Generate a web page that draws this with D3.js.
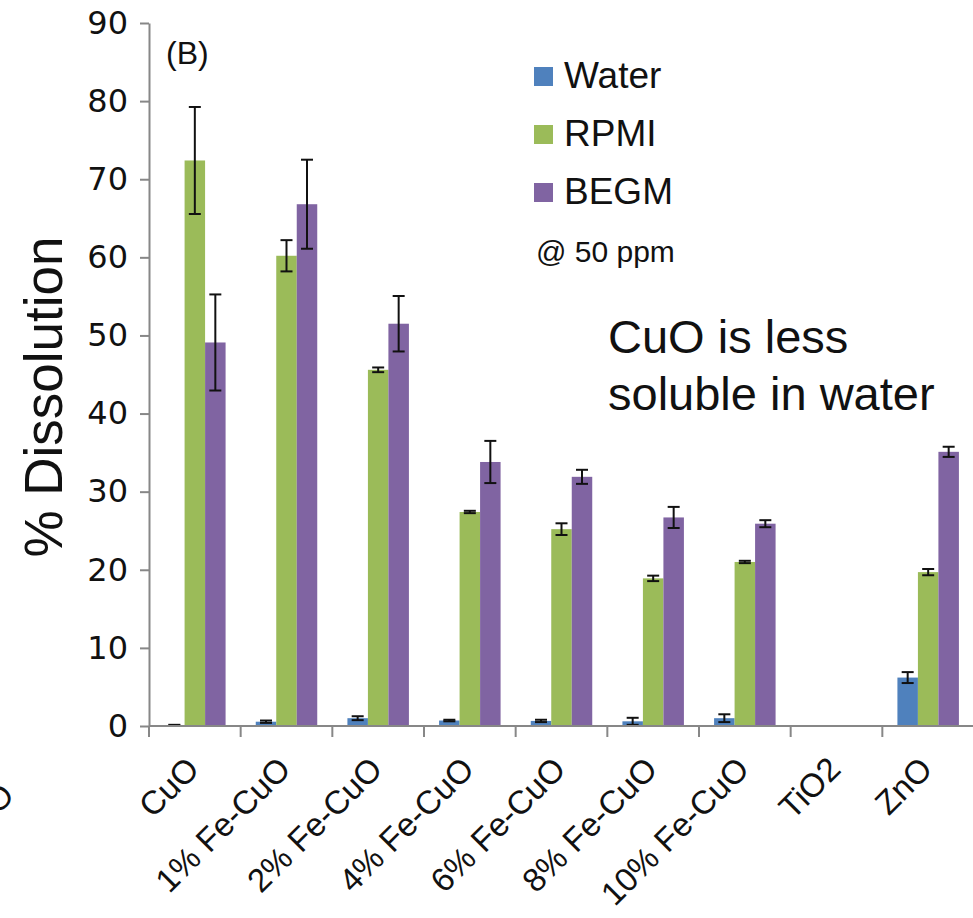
<!DOCTYPE html>
<html>
<head>
<meta charset="utf-8">
<script src="https://cdn.jsdelivr.net/npm/d3@7"></script>
<style>
  html, body { margin: 0; padding: 0; background: #fff; overflow: hidden; }
  svg { display: block; }
</style>
</head>
<body>
<svg id="chart" width="973" height="918"></svg>
<script>
// Nanoparticle dissolution (%) at 50 ppm in three media
const categories = ["CuO", "1% Fe-CuO", "2% Fe-CuO", "4% Fe-CuO", "6% Fe-CuO",
                    "8% Fe-CuO", "10% Fe-CuO", "TiO2", "ZnO"];
const seriesNames = ["Water", "RPMI", "BEGM"];
const seriesColors = ["#4F81BD", "#9BBB59", "#8064A2"];

const waterValues = [0.1, 0.55, 1.0, 0.7, 0.65, 0.6, 1.0, 0, 6.2];
const waterErrors = [0.05, 0.15, 0.25, 0.1, 0.15, 0.45, 0.5, 0, 0.7];
const rpmiValues  = [72.4, 60.2, 45.6, 27.4, 25.2, 18.9, 21.0, 0, 19.7];
const rpmiErrors  = [6.85, 2.0, 0.3, 0.15, 0.75, 0.35, 0.15, 0, 0.4];
const begmValues  = [49.1, 66.8, 51.5, 33.8, 31.9, 26.7, 25.9, 0, 35.1];
const begmErrors  = [6.15, 5.7, 3.55, 2.7, 0.9, 1.35, 0.45, 0, 0.65];

const yTicks = [0, 10, 20, 30, 40, 50, 60, 70, 80, 90];
const neighbourPanelLabel = "ZnO";

const svg = d3.select("#chart");
const axisColor = "#878787";
const textFont = "'Liberation Sans', Arial, sans-serif";

const y = d3.scaleLinear().domain([0, 90]).range([726, 23]);
const x = d3.scaleBand().domain(categories).range([149, 974]).paddingInner(0).paddingOuter(0);
const xs = d3.scaleBand().domain(seriesNames).range([0, x.bandwidth()]).paddingInner(0).paddingOuter(0.736);

const series = [
  { name: "Water", values: waterValues, errors: waterErrors },
  { name: "RPMI",  values: rpmiValues,  errors: rpmiErrors },
  { name: "BEGM",  values: begmValues,  errors: begmErrors }
];
const color = d3.scaleOrdinal().domain(seriesNames).range(seriesColors);

const rows = [];
series.forEach(s => {
  categories.forEach((c, i) => rows.push({ cat: c, series: s.name, v: s.values[i], e: s.errors[i] }));
});

// Bars
svg.append("g").selectAll("rect")
  .data(rows.filter(d => d.v > 0))
  .join("rect")
  .attr("x", d => x(d.cat) + xs(d.series))
  .attr("width", xs.bandwidth())
  .attr("y", d => y(d.v))
  .attr("height", d => y(0) - y(d.v))
  .attr("fill", d => color(d.series));

// Error bars
const eb = svg.append("g").attr("stroke", "#111").attr("stroke-width", 2).attr("fill", "none");
rows.filter(d => d.e > 0).forEach(d => {
  const cx = x(d.cat) + xs(d.series) + xs.bandwidth() / 2;
  const y1 = y(d.v + d.e), y2 = y(Math.max(0, d.v - d.e));
  eb.append("line").attr("x1", cx).attr("x2", cx).attr("y1", y1).attr("y2", y2);
  eb.append("line").attr("x1", cx - 6).attr("x2", cx + 6).attr("y1", y1).attr("y2", y1);
  eb.append("line").attr("x1", cx - 6).attr("x2", cx + 6).attr("y1", y2).attr("y2", y2);
});

// Y axis
const yAxis = svg.append("g")
  .attr("transform", "translate(149,0)")
  .call(d3.axisLeft(y).tickValues(yTicks).tickSize(9).tickPadding(12).tickSizeOuter(0));
yAxis.select(".domain").attr("stroke", axisColor).attr("stroke-width", 2);
yAxis.selectAll(".tick line").attr("stroke", axisColor).attr("stroke-width", 2);
yAxis.selectAll(".tick text")
  .attr("fill", "#111")
  .style("font-family", "'DejaVu Sans', Verdana, sans-serif")
  .style("font-size", "32px");

// X axis: ticks at category boundaries
const boundaries = categories.map(c => x(c));
const xAxisG = svg.append("g");
xAxisG.append("line")
  .attr("x1", x.range()[0]).attr("x2", x.range()[1])
  .attr("y1", y(0)).attr("y2", y(0))
  .attr("stroke", axisColor).attr("stroke-width", 2);
xAxisG.selectAll("line.tk")
  .data(boundaries)
  .join("line").attr("class", "tk")
  .attr("x1", d => d).attr("x2", d => d)
  .attr("y1", y(0)).attr("y2", y(0) + 11)
  .attr("stroke", axisColor).attr("stroke-width", 2);

// Rotated category labels
svg.append("g").selectAll("text")
  .data(categories)
  .join("text")
  .attr("transform", d => `translate(${x(d) + x.bandwidth() / 2 + 6},771) rotate(-45)`)
  .attr("text-anchor", "end")
  .style("font-family", textFont)
  .style("font-size", "33px")
  .attr("fill", "#111")
  .text(d => d);

// Label from the neighbouring panel, clipped by the page edge
svg.append("text")
  .attr("transform", "translate(16,797) rotate(-45)")
  .attr("text-anchor", "end")
  .style("font-family", textFont)
  .style("font-size", "33px")
  .attr("fill", "#111")
  .text(neighbourPanelLabel);

// Y title
svg.append("text")
  .attr("transform", "translate(62,397) rotate(-90)")
  .attr("text-anchor", "middle")
  .style("font-family", textFont)
  .style("font-size", "53px")
  .attr("fill", "#111")
  .text("% Dissolution");

// Panel tag
svg.append("text")
  .attr("x", 166).attr("y", 64)
  .style("font-family", textFont).style("font-size", "32px").attr("fill", "#111")
  .text("(B)");

// Legend
const legend = svg.append("g");
seriesNames.forEach((name, i) => {
  const g = legend.append("g").attr("transform", `translate(534,${67 + i * 58})`);
  g.append("rect").attr("width", 19).attr("height", 19).attr("fill", color(name));
  g.append("text").attr("x", 30).attr("y", 21)
    .style("font-family", textFont).style("font-size", "37px").attr("fill", "#111")
    .text(name);
});

svg.append("text")
  .attr("x", 536).attr("y", 262)
  .style("font-family", textFont).style("font-size", "30px").attr("fill", "#111")
  .text("@ 50 ppm");

const note = svg.append("text")
  .style("font-family", textFont).style("font-size", "47px").attr("fill", "#111");
note.append("tspan").attr("x", 608).attr("y", 353).text("CuO is less");
note.append("tspan").attr("x", 608).attr("y", 410).text("soluble in water");
</script>
</body>
</html>
